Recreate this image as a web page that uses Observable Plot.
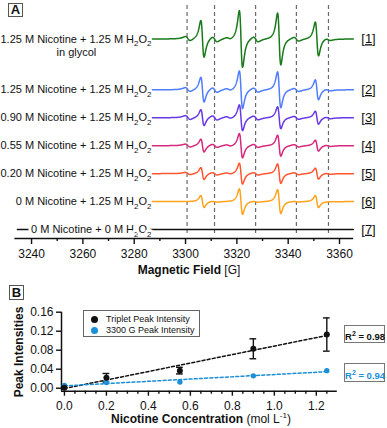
<!DOCTYPE html>
<html><head><meta charset="utf-8">
<script src="https://cdn.jsdelivr.net/npm/d3@7"></script>
<script src="https://cdn.jsdelivr.net/npm/@observablehq/plot@0.6"></script>
<style>
body{margin:0;background:#fff;font-family:"Liberation Sans",Arial,Helvetica,sans-serif;}
#wrap{position:relative;width:387px;height:428px;overflow:hidden;background:#fff;}
#wrap svg{position:absolute;left:0;overflow:visible;}
.ov{position:absolute;color:#111;white-space:nowrap;line-height:1;}
.pbox{border:1px solid #555;background:#fff;font-weight:bold;font-size:13px;text-align:center;box-sizing:border-box;}
.lg{font-size:9px;}
.dot{display:inline-block;width:7px;height:7px;border-radius:50%;vertical-align:middle;}
.r2{border:1px solid #777;font-weight:bold;font-size:9.5px;text-align:center;box-sizing:border-box;}
</style></head><body><div id="wrap"></div><script>
// ---------------- Panel A data ----------------
const sampleIds = ["1","2","3","4","5","6","7"];
const sampleLabels = [
  "1.25 M Nicotine + 1.25 M H_{2}O_{2}",
  "1.25 M Nicotine + 1.25 M H_{2}O_{2}",
  "0.90 M Nicotine + 1.25 M H_{2}O_{2}",
  "0.55 M Nicotine + 1.25 M H_{2}O_{2}",
  "0.20 M Nicotine + 1.25 M H_{2}O_{2}",
  "0 M Nicotine + 1.25 M H_{2}O_{2}",
  "0 M Nicotine + 0 M H_{2}O_{2}"
];
const sampleNote = "in glycol";
const sampleTags = ["[1]","[2]","[3]","[4]","[5]","[6]","[7]"];
const sampleColors = ["#187a18","#4f7dff","#6838e6","#d6287c","#ff5630","#ffa31c","#111111"];
// main quartet line positions (G) and per-spectrum amplitudes (a.u.)
const quartetField = [3306.6, 3321.6, 3336.5, 3351.2];
const quartetAmp = [
  [18.5, 28.5, 26, 17],
  [12.5, 19, 18, 10],
  [8, 13, 11, 6.5],
  [6.5, 12.2, 10.5, 5.5],
  [6, 10.5, 9.8, 5.5],
  [6, 12.8, 12, 6],
  [0, 0, 0, 0]
];
// weaker secondary lines (G) and amplitudes
const minorField = [3300.9, 3311.4, 3316.8, 3327.4, 3343.2, 3355.6];
const minorAmp = [
  [2.2, 2.6, 1.0, 2.6, 2.0, 1.0],
  [2.0, 2.4, 1.0, 2.2, 1.6, 0.8],
  [2.0, 2.2, 1.0, 2.0, 1.5, 0.8],
  [1.5, 1.6, 0.8, 1.6, 1.2, 0.6],
  [1.2, 1.3, 0.6, 1.3, 1.0, 0.5],
  [0.0, 0.5, 0.0, 0.5, 0.3, 0.0],
  [0, 0, 0, 0, 0, 0]
];
const dashFields = [3300.6, 3311.3, 3327.3, 3343.2, 3355.7];
const fieldMajorTicks = [3240, 3260, 3280, 3300, 3320, 3340, 3360];
const fieldMinorTicks = [3250, 3270, 3290, 3310, 3330, 3350];

// ---------------- Panel B data ----------------
const concentration = [0, 0.2, 0.55, 0.9, 1.25];
const tripletIntensity = [0.001, 0.022, 0.037, 0.083, 0.113];
const tripletError = [0, 0.009, 0.007, 0.021, 0.035];
const peak3300Intensity = [0.006, 0.012, 0.013, 0.026, 0.037];
const concMajorTicks = [0, 0.2, 0.4, 0.6, 0.8, 1.0, 1.2];
const concMinorTicks = [0.05,0.1,0.15,0.25,0.3,0.35,0.45,0.5,0.55,0.65,0.7,0.75,0.85,0.9,0.95,1.05,1.1,1.15,1.25];
const intensityTicks = [0, 0.04, 0.08, 0.12, 0.16];
const r2Values = ["0.98", "0.94"];

// ---------------- layout ----------------
const W = 387;
const FONT = '"Liberation Sans", Arial, Helvetica, sans-serif';
const fieldDomain = [3227.9, 3378.7];
const specStart = 3287.1, specEnd = 3365.4, blankStart = 3234.5, axisStart = 3233.5, axisEnd = 3365.5, tagField = 3371.3;
const firstBase = 38.5, secondBase = 89.3, baseStep = 27.95;
const baseOf = i => i === 0 ? firstBase : secondBase + (i - 1) * baseStep;
const axisY = 238;

function dlor(x, c, g) { const u = (x - c) / g; return -u / ((1 + u * u) ** 2) / 0.3248; }

const specPoints = [];
sampleIds.forEach((id, i) => {
  const start = i === 6 ? blankStart : specStart;
  for (let x = start; x <= specEnd + 1e-9; x += 0.1) {
    let s = 0;
    quartetField.forEach((c, k) => s += quartetAmp[i][k] * dlor(x, c, 1.1));
    minorField.forEach((c, k) => s += minorAmp[i][k] * dlor(x, c, 1.7));
    specPoints.push({sample: id, field: x, y: baseOf(i) - s});
  }
});
const labelRows = sampleIds.map((id, i) => ({sample: id, label: sampleLabels[i], tag: sampleTags[i], base: baseOf(i)}));

const wrap = document.getElementById("wrap");

const plotA = Plot.plot({
  width: W, height: 280,
  marginLeft: 0, marginRight: 0, marginTop: 0, marginBottom: 280 - axisY,
  x: {domain: fieldDomain, range: [0, W], label: null},
  y: {domain: [0, axisY], range: [0, axisY], axis: null},
  color: {domain: sampleIds, range: sampleColors},
  style: {fontFamily: FONT, fontSize: "12px", color: "#111", background: "transparent", overflow: "visible"},
  marks: [
    Plot.ruleX(dashFields, {y1: 5, y2: axisY - 2, stroke: "#6a6a6a", strokeWidth: 1.2, strokeDasharray: "4,3"}),
    Plot.line(specPoints, {x: "field", y: "y", z: "sample", stroke: "sample", strokeWidth: 1.5}),
    Plot.text(labelRows.slice(0, 6), {x: specStart, y: "base", text: "label", textAnchor: "end", dx: -1, fontSize: 11, fill: "#111"}),
    Plot.text([labelRows[0]], {x: specStart, y: "base", text: () => sampleNote, textAnchor: "middle", dx: -76, dy: 13.5, fontSize: 11, fill: "#111"}),
    Plot.text(labelRows.slice(6), {x: specStart, y: "base", text: "label", textAnchor: "end", dx: -1, fontSize: 11, fill: "#111", stroke: "white", strokeWidth: 6}),
    Plot.text(labelRows, {x: tagField, y: "base", text: "tag", textAnchor: "middle", fontSize: 13, fill: "#111", className: "tag"}),
    Plot.ruleY([axisY], {x1: axisStart, x2: axisEnd, stroke: "#111", strokeWidth: 1.5}),
    Plot.axisX({ticks: fieldMajorTicks, tickFormat: d3.format("d"), tickSize: 6, tickPadding: 5, fontSize: 12, strokeWidth: 1.4, label: null}),
    Plot.axisX({ticks: fieldMinorTicks, tickSize: 3, text: null, strokeWidth: 1.4, label: null})
  ]
});
plotA.style.top = "0px";
wrap.appendChild(plotA);

// ---------------- Panel B ----------------
const tripletRows = concentration.map((c, i) => ({conc: c, value: tripletIntensity[i], err: tripletError[i]}));
const peakRows = concentration.map((c, i) => ({conc: c, value: peak3300Intensity[i]}));
const errRows = tripletRows.filter(d => d.err > 0);
const blueB = "#1b8fd8";
const xDomB = [-0.014, 1.3], yDomB = [-0.0063, 0.16];

const plotB = Plot.plot({
  width: W, height: 148,
  marginLeft: 61, marginRight: 50.2, marginTop: 31.7, marginBottom: 37.3,
  x: {domain: xDomB, label: null},
  y: {domain: yDomB, label: null},
  style: {fontFamily: FONT, fontSize: "12px", color: "#111", background: "transparent", overflow: "visible"},
  marks: [
    Plot.ruleX([xDomB[0]], {stroke: "#111", strokeWidth: 1.5}),
    Plot.ruleY([yDomB[0]], {stroke: "#111", strokeWidth: 1.5}),
    Plot.axisY({ticks: intensityTicks, tickFormat: d3.format(".2f"), tickSize: 5, tickPadding: 3, fontSize: 12, strokeWidth: 1.4, label: null}),
    Plot.axisX({ticks: concMajorTicks, tickFormat: d3.format(".1f"), tickSize: 5, tickPadding: 5, fontSize: 12, strokeWidth: 1.4, label: null}),
    Plot.axisX({ticks: concMinorTicks, tickSize: 3, text: null, strokeWidth: 1.4, label: null}),
    Plot.linearRegressionY(tripletRows, {x: "conc", y: "value", ci: 0, stroke: "#111", strokeWidth: 1.5, strokeDasharray: "3,2.2"}),
    Plot.linearRegressionY(peakRows, {x: "conc", y: "value", ci: 0, stroke: blueB, strokeWidth: 1.5, strokeDasharray: "3,2.2"}),
    Plot.ruleX(errRows, {x: "conc", y1: d => d.value - d.err, y2: d => d.value + d.err, stroke: "#111", strokeWidth: 1.4}),
    Plot.ruleY(errRows, {y: d => d.value + d.err, x1: d => d.conc - 0.016, x2: d => d.conc + 0.016, stroke: "#111", strokeWidth: 1.4}),
    Plot.ruleY(errRows, {y: d => d.value - d.err, x1: d => d.conc - 0.016, x2: d => d.conc + 0.016, stroke: "#111", strokeWidth: 1.4}),
    Plot.dot(peakRows, {x: "conc", y: "value", r: 2.7, fill: blueB}),
    Plot.dot(tripletRows, {x: "conc", y: "value", r: 3, fill: "#111"})
  ]
});
plotB.style.top = "280px";
wrap.appendChild(plotB);

// ---------- rich text (sub/superscripts) in SVG ----------
function richify(svg) {
  d3.select(svg).selectAll("text").each(function () {
    const el = this;
    if (el.querySelector("tspan")) return;
    const s = el.textContent;
    if (!/[_^]\{/.test(s)) return;
    const fs = parseFloat(el.getAttribute("font-size")) || 11;
    el.textContent = "";
    const re = /([_^])\{([^}]*)\}/g;
    let last = 0, m, shift = 0;
    const add = (txt, dy, small) => {
      const t = document.createElementNS("http://www.w3.org/2000/svg", "tspan");
      t.textContent = txt;
      if (dy) t.setAttribute("dy", dy);
      if (small) t.setAttribute("font-size", fs * 0.72);
      el.appendChild(t);
    };
    while ((m = re.exec(s))) {
      if (m.index > last) { add(s.slice(last, m.index), -shift); shift = 0; }
      const sh = m[1] === "_" ? fs * 0.32 : -fs * 0.4;
      add(m[2], sh - shift, true);
      shift = sh;
      last = re.lastIndex;
    }
    if (last < s.length) add(s.slice(last), -shift);
  });
}
richify(plotA);
d3.select(plotA).selectAll("g.tag text, .tag text")
  .style("text-decoration", "underline")
  .style("text-decoration-color", "#555")
  .style("text-underline-offset", "3px");

// ---------- overlays (panel letters, titles, legend, R² boxes) ----------
function ov(html, css, cls) {
  const d = document.createElement("div");
  d.className = "ov " + (cls || "");
  d.innerHTML = html;
  Object.assign(d.style, css);
  wrap.appendChild(d);
  return d;
}
ov("A", {left: "8px", top: "3px", width: "15px", height: "14px", lineHeight: "12px"}, "pbox");
ov("B", {left: "9px", top: "285px", width: "15px", height: "15px", lineHeight: "13px"}, "pbox");
ov("<b>Magnetic Field</b> [G]", {left: "189px", top: "264px", transform: "translateX(-50%)", fontSize: "12px"});
ov("<b>Nicotine Concentration</b> (mol L<sup style='font-size:8px'>-1</sup>)", {left: "201px", top: "412px", transform: "translateX(-50%)", fontSize: "12px"});
ov("<b>Peak Intensities</b>", {left: "19px", top: "351.5px", transform: "translate(-50%,-50%) rotate(-90deg)", fontSize: "12px"});
ov(`<div style="position:absolute;left:7px;top:4px"><span class="dot" style="background:#111"></span><span style="margin-left:8px">Triplet Peak Intensity</span></div>
    <div style="position:absolute;left:7px;top:15px"><span class="dot" style="background:${blueB}"></span><span style="margin-left:8px">3300 G Peak Intensity</span></div>`,
   {left: "83px", top: "310px", width: "117px", height: "27px", border: "1px solid #666", boxSizing: "border-box", background: "#fff"}, "lg");
ov(`R<sup style="font-size:7px">2</sup> = ${r2Values[0]}`, {left: "344px", top: "325px", width: "41px", height: "18px", paddingTop: "4px"}, "r2");
ov(`R<sup style="font-size:7px">2</sup> = ${r2Values[1]}`, {left: "344px", top: "363px", width: "41px", height: "19px", paddingTop: "4.5px", color: blueB}, "r2");
</script></body></html>
